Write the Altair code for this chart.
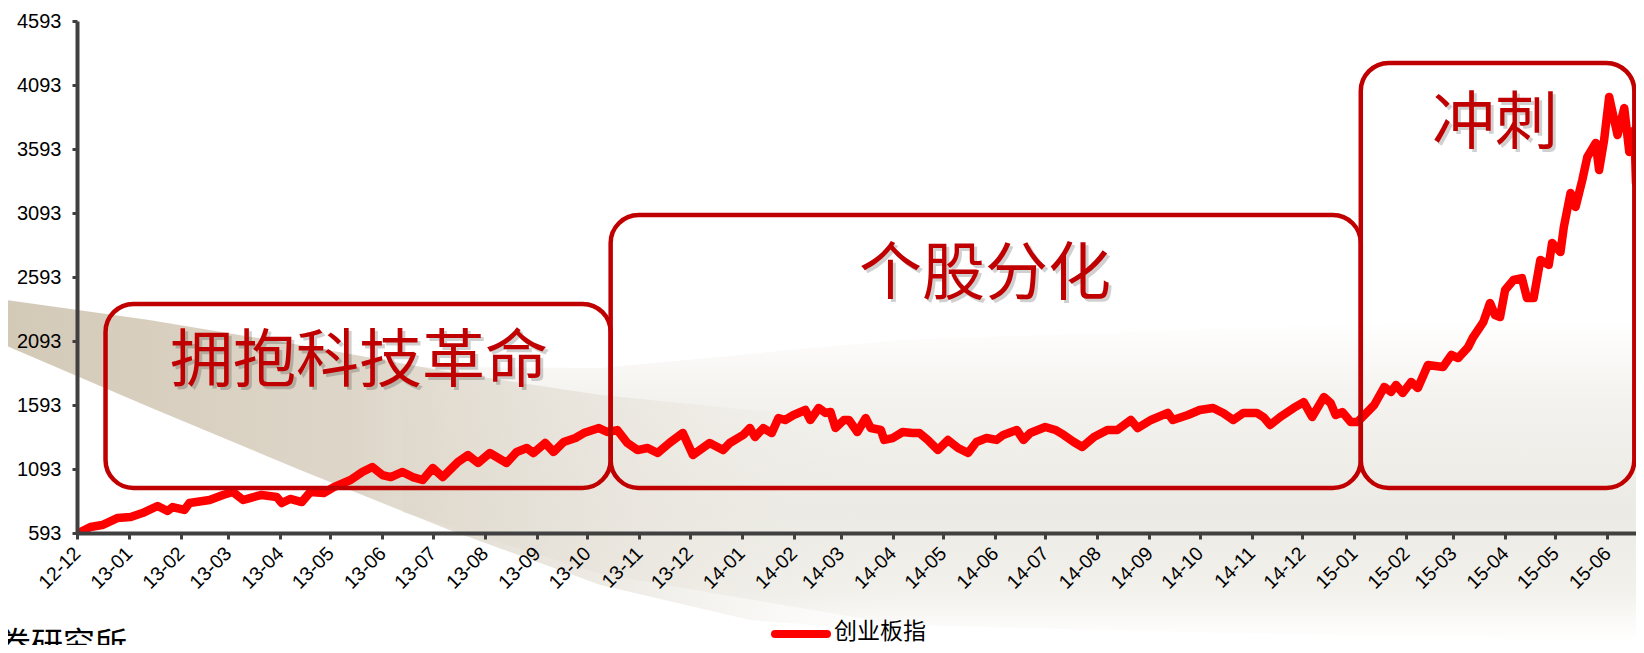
import altair as alt
import pandas as pd

# ---- data ----
series_name = "创业板指"
dates = [
    "2012-12-02", "2012-12-09", "2012-12-16", "2012-12-25", "2013-01-02", "2013-01-09",
    "2013-01-18", "2013-01-24", "2013-01-27", "2013-02-03", "2013-02-06", "2013-02-18",
    "2013-02-26", "2013-03-04", "2013-03-10", "2013-03-14", "2013-03-21", "2013-03-30",
    "2013-04-02", "2013-04-07", "2013-04-14", "2013-04-19", "2013-04-27", "2013-05-03",
    "2013-05-13", "2013-05-20", "2013-05-26", "2013-06-01", "2013-06-06", "2013-06-13",
    "2013-06-19", "2013-06-25", "2013-07-01", "2013-07-07", "2013-07-16", "2013-07-22",
    "2013-07-28", "2013-08-04", "2013-08-14", "2013-08-20", "2013-08-26", "2013-08-30",
    "2013-09-06", "2013-09-11", "2013-09-17", "2013-09-24", "2013-09-29", "2013-10-08",
    "2013-10-13", "2013-10-19", "2013-10-25", "2013-10-31", "2013-11-06", "2013-11-12",
    "2013-11-19", "2013-11-27", "2013-12-03", "2013-12-13", "2013-12-21", "2013-12-25",
    "2014-01-02", "2014-01-06", "2014-01-09", "2014-01-14", "2014-01-19", "2014-01-23",
    "2014-01-27", "2014-02-01", "2014-02-08", "2014-02-11", "2014-02-16", "2014-02-20",
    "2014-02-23", "2014-02-26", "2014-03-03", "2014-03-06", "2014-03-11", "2014-03-16",
    "2014-03-19", "2014-03-25", "2014-03-27", "2014-04-01", "2014-04-07", "2014-04-13",
    "2014-04-17", "2014-04-22", "2014-04-28", "2014-05-04", "2014-05-10", "2014-05-16",
    "2014-05-21", "2014-05-27", "2014-06-02", "2014-06-06", "2014-06-14", "2014-06-18",
    "2014-06-22", "2014-07-01", "2014-07-07", "2014-07-12", "2014-07-18", "2014-07-23",
    "2014-07-30", "2014-08-07", "2014-08-13", "2014-08-21", "2014-08-25", "2014-09-02",
    "2014-09-12", "2014-09-15", "2014-09-24", "2014-10-01", "2014-10-09", "2014-10-15",
    "2014-10-21", "2014-10-27", "2014-11-04", "2014-11-08", "2014-11-12", "2014-11-18",
    "2014-11-26", "2014-12-02", "2014-12-07", "2014-12-14", "2014-12-18", "2014-12-21",
    "2014-12-25", "2014-12-30", "2015-01-03", "2015-01-06", "2015-01-13", "2015-01-19",
    "2015-01-23", "2015-01-26", "2015-01-30", "2015-02-04", "2015-02-08", "2015-02-14",
    "2015-02-23", "2015-02-28", "2015-03-04", "2015-03-10", "2015-03-13", "2015-03-19",
    "2015-03-23", "2015-03-26", "2015-03-29", "2015-04-01", "2015-04-06", "2015-04-11",
    "2015-04-14", "2015-04-18", "2015-04-22", "2015-04-27", "2015-04-29", "2015-05-04",
    "2015-05-06", "2015-05-10", "2015-05-13", "2015-05-17", "2015-05-20", "2015-05-25",
    "2015-05-27", "2015-05-30", "2015-06-02", "2015-06-07", "2015-06-11", "2015-06-14",
    "2015-06-17", "2015-06-18", "2015-06-22", "2015-06-26",
]
values = [
    593, 640, 655, 710, 718, 749,
    804, 765, 796, 773, 827, 851,
    890, 913, 851, 866, 890, 874,
    827, 859, 835, 913, 905, 952,
    1007, 1070, 1109, 1046, 1030, 1070,
    1030, 1007, 1101, 1030, 1148, 1202,
    1140, 1218, 1140, 1226, 1257, 1218,
    1296, 1226, 1304, 1335, 1374, 1413,
    1382, 1397, 1296, 1241, 1257, 1218,
    1296, 1374, 1202, 1296, 1241, 1296,
    1359, 1413, 1343, 1413, 1374, 1491,
    1476, 1515, 1554, 1476, 1570, 1531,
    1538, 1413, 1476, 1476, 1382, 1491,
    1413, 1398, 1320, 1335, 1382, 1374,
    1374, 1320, 1241, 1320, 1257, 1218,
    1304, 1335, 1320, 1359, 1398, 1320,
    1374, 1421, 1398, 1359, 1304, 1265,
    1343, 1398, 1398, 1476, 1413, 1476,
    1531, 1476, 1515, 1554, 1570, 1531,
    1476, 1531, 1531, 1499, 1437, 1499,
    1570, 1616, 1499, 1655, 1609, 1515,
    1538, 1460, 1460, 1499, 1593, 1734,
    1695, 1749, 1687, 1773, 1726, 1905,
    1890, 1984, 1960, 2046, 2124, 2241,
    2390, 2296, 2280, 2491, 2570, 2585,
    2429, 2429, 2726, 2687, 2859, 2788,
    2984, 3249, 3140, 3351, 3531, 3640,
    3429, 3663, 4000, 3702, 3913, 3570,
    3741, 3327, 3405, 2875,
]

month_ticks = pd.date_range("2012-12-01", "2015-06-01", freq="MS").strftime("%Y-%m-%d").tolist()
y_ticks = [593, 1093, 1593, 2093, 2593, 3093, 3593, 4093, 4593]
x_domain = ["2012-12-01", "2015-06-18"]
y_domain = [593, 4593]

# phase boxes and their captions
phase_labels = ["拥抱科技革命", "个股分化", "冲刺"]
phase_start = ["2012-12-18", "2013-10-15", "2015-01-05"]
phase_end = ["2013-10-15", "2015-01-05", "2015-06-17"]
phase_top = [2382, 3077, 4265]
phase_bottom = [945, 945, 945]
label_date = ["2013-05-18", "2014-05-26", "2015-03-26"]
label_value = [1929, 2609, 3788]

# decorative background swoosh (in chart date / index units)
swoosh_date = ["2012-10-16", "2013-01-13", "2013-04-13", "2013-07-11", "2013-10-09",
               "2014-01-06", "2014-04-05"]
swoosh_upper = [2421, 2257, 2062, 1851, 1671, 1554, 1480]
swoosh_lower = [2077, 1577, 1085, 616, 187, -87, -180]
stripe_date = ["2013-06-13", "2013-10-09", "2014-04-05", "2014-12-01", "2015-06-26"]
stripe_upper = [1890, 1882, 2101, 2210, 2257]
stripe_lower = [757, 273, -124, -204, -243]

source_text = "券研究所"


def ms(s):
    return int(pd.Timestamp(s, tz="UTC").value // 10**6)


line_df = pd.DataFrame({"date": dates, "value": values, "series": series_name})
box_df = pd.DataFrame({"start": phase_start, "end": phase_end,
                       "top": phase_top, "bottom": phase_bottom})
lab_df = pd.DataFrame({"date": label_date, "value": label_value, "label": phase_labels})
swoosh_df = pd.DataFrame({"date": swoosh_date, "upper": swoosh_upper, "lower": swoosh_lower})
stripe_df = pd.DataFrame({"date": stripe_date, "upper": stripe_upper, "lower": stripe_lower})

AXIS_COLOR = "#404040"
LABEL_FONT = "Liberation Sans"
CJK = "Noto Sans CJK SC"
DARK_RED = "#C00000"

x_scale = alt.Scale(type="utc", domain=[ms(d) for d in x_domain])
y_scale = alt.Scale(domain=y_domain, nice=False, zero=False)

x_axis = alt.Axis(
    values=[ms(d) for d in month_ticks],
    labelExpr="utcFormat(datum.value, '%y-%m')",
    title=None, grid=False, zindex=2,
    domainColor=AXIS_COLOR, domainWidth=4,
    tickColor=AXIS_COLOR, tickWidth=3, tickSize=6,
    labelAngle=315, labelAlign="right", labelBaseline="middle",
    labelFont=LABEL_FONT, labelFontSize=19.5, labelColor="#000000",
    labelPadding=11, labelOverlap=False, labelFlush=False,
)
y_axis = alt.Axis(
    values=y_ticks, format="d", title=None, grid=False, zindex=2,
    domainColor=AXIS_COLOR, domainWidth=4,
    tickColor=AXIS_COLOR, tickWidth=3, tickSize=5,
    labelFont=LABEL_FONT, labelFontSize=20, labelColor="#000000",
    labelPadding=11, labelOverlap=False, labelFlush=False,
)


def X(field):
    return alt.X(field, scale=x_scale, axis=x_axis)


def Y(field):
    return alt.Y(field, scale=y_scale, axis=y_axis)


stripes = alt.Chart(stripe_df).mark_area(
    fill=alt.Gradient(
        gradient="linear", x1=0, y1=0, x2=0, y2=1,
        stops=[alt.GradientStop(color="#ffffff", offset=0),
               alt.GradientStop(color="#f4f2ee", offset=0.25),
               alt.GradientStop(color="#eceae4", offset=0.6),
               alt.GradientStop(color="#f3f1ec", offset=0.85),
               alt.GradientStop(color="#ffffff", offset=1)],
    ),
).encode(x=X("date:T"), y=Y("upper:Q"), y2="lower:Q")

swoosh = alt.Chart(swoosh_df).mark_area(
    fill=alt.Gradient(
        gradient="linear", x1=0, y1=0, x2=1, y2=0,
        stops=[alt.GradientStop(color="rgba(211,201,183,1)", offset=0),
               alt.GradientStop(color="rgba(220,212,198,0.95)", offset=0.4),
               alt.GradientStop(color="rgba(232,228,220,0.7)", offset=0.7),
               alt.GradientStop(color="rgba(240,238,233,0)", offset=1)],
    ),
).encode(x=X("date:T"), y=Y("upper:Q"), y2="lower:Q")

line = alt.Chart(line_df).mark_line(
    color="#FF0000", strokeWidth=8.5, strokeJoin="round", strokeCap="round", clip=True
).encode(x=X("date:T"), y=Y("value:Q"))

boxes = alt.Chart(box_df).mark_rect(
    fill="#ffffff", fillOpacity=0, stroke=DARK_RED, strokeWidth=4.5,
    cornerRadius=28, clip=True
).encode(x=X("start:T"), x2="end:T", y=Y("top:Q"), y2="bottom:Q")

label_shadow = alt.Chart(lab_df).mark_text(
    font=CJK, fontSize=63, color="#000000", opacity=0.18, dx=3, dy=3
).encode(x=X("date:T"), y=Y("value:Q"), text="label:N")

labels = alt.Chart(lab_df).mark_text(
    font=CJK, fontSize=63, color=DARK_RED
).encode(x=X("date:T"), y=Y("value:Q"), text="label:N")

legend_df = pd.DataFrame({"series": [series_name]})
legend_line = alt.Chart(legend_df).mark_rule(
    color="#FF0000", strokeWidth=8, strokeCap="round"
).encode(x=alt.value(698), x2=alt.value(750), y=alt.value(613))
legend_text = alt.Chart(legend_df).mark_text(
    font=CJK, fontSize=23, color="#000000", align="left", baseline="middle"
).encode(x=alt.value(757), y=alt.value(611), text="series:N")

source = alt.Chart(pd.DataFrame({"t": [source_text]})).mark_text(
    font=CJK, fontSize=32, color="#000000", align="left", baseline="top"
).encode(x=alt.value(-78), y=alt.value(609), text="t:N")

chart = alt.layer(
    stripes, swoosh, line, boxes, label_shadow, labels,
    legend_line, legend_text, source
).properties(
    width=1559, height=512,
    autosize=alt.AutoSizeParams(type="none"),
    padding={"left": 69, "top": 13, "right": 0, "bottom": 112},
    background="#ffffff",
).configure_view(stroke=None)

chart.save("out.html", embed_options={"renderer": "svg", "actions": False})
